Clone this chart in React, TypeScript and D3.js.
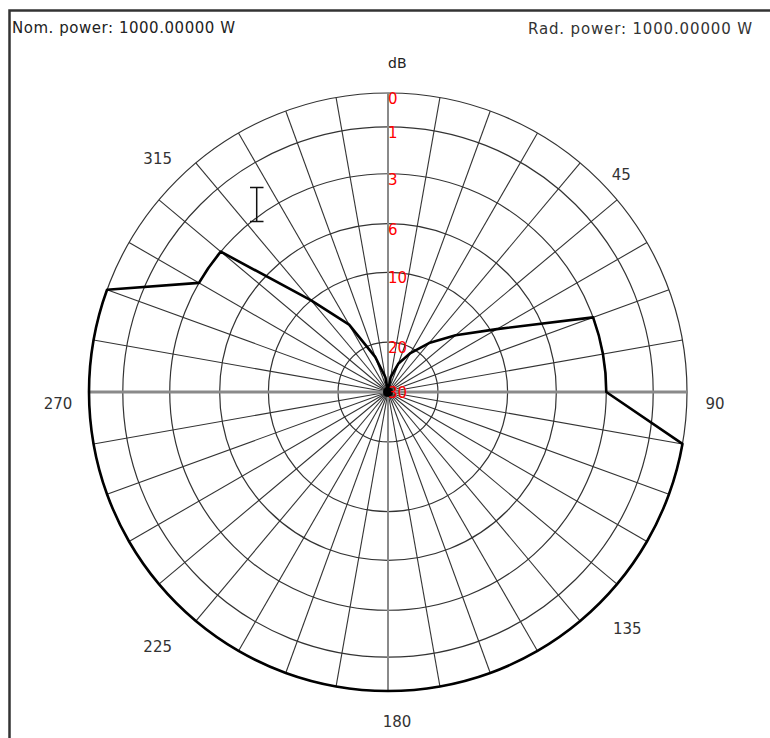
import React from "react";
import * as d3 from "d3";

// Radiation pattern: attenuation in dB (0 = max) at compass angles
const patternAngles = [0, 10, 20, 30, 40, 50, 60, 70, 80, 90, 100, 110, 120, 130, 140, 150, 160, 170,
  180, 190, 200, 210, 220, 230, 240, 250, 260, 270, 280, 290, 300, 310, 320, 330, 340, 350];
const patternDb = [30, 27, 24, 21, 18, 14.5, 9.5, 3, 3, 3, 0, 0, 0, 0, 0, 0, 0, 0,
  0, 0, 0, 0, 0, 0, 0, 0, 0, 0, 0, 0, 3, 3, 10, 16, 22.5, 27];

// dB rings and their labels
const ringLevels = [0, 1, 3, 6, 10, 20, 30];
const angleLabels = [45, 90, 135, 180, 225, 270, 315];

const nomPower = "Nom. power: 1000.00000 W";
const radPower = "Rad. power: 1000.00000 W";

const width = 770, height = 738;
const cx = 388, cy = 392, R = 299;

// non-linear dB scale
const r = d3.scaleLinear()
  .domain(ringLevels)
  .range([1, 0.887, 0.73, 0.563, 0.4, 0.167, 0].map(f => f * R));

const rad = (deg: number) => (deg * Math.PI) / 180;

// straight segments between samples, true arcs where the level stays constant
function patternPath() {
  const p = d3.path();
  const n = patternAngles.length;
  const pt = (a: number, v: number): [number, number] =>
    [r(v) * Math.sin(rad(a)), -r(v) * Math.cos(rad(a))];
  const [x0, y0] = pt(patternAngles[0], patternDb[0]);
  p.moveTo(x0, y0);
  for (let i = 0; i < n; i++) {
    const a0 = patternAngles[i], v0 = patternDb[i];
    const a1 = i + 1 < n ? patternAngles[i + 1] : 360;
    const v1 = patternDb[(i + 1) % n];
    if (v0 === v1 && r(v0) > 0) {
      p.arc(0, 0, r(v0), rad(a0) - Math.PI / 2, rad(a1) - Math.PI / 2);
    } else {
      const [x, y] = pt(a1, v1);
      p.lineTo(x, y);
    }
  }
  return p.toString();
}

// small per-label nudges for the compass labels
const labelNudge: Record<number, [number, number]> = {
  45: [0, 17], 90: [-3, 12], 135: [6, 4], 180: [9, 0], 225: [3, 22], 270: [0, 12], 315: [3, 1],
};

export default function App() {
  const spokes = d3.range(0, 360, 10);
  const font = "'DejaVu Sans', Verdana, sans-serif";

  return (
    <svg width={width} height={height} style={{ position: "absolute", left: 0, top: 0, background: "#fff" }}
      fontFamily={font}>
      {/* frame */}
      <path d={`M9.5,${height} V10.5 H${width}`} fill="none" stroke="#333" strokeWidth={2.5} />

      <text x={12} y={33} fontSize={15} fill="#222" textLength={223} lengthAdjust="spacing">{nomPower}</text>
      <text x={528} y={34} fontSize={15} fill="#333" textLength={224} lengthAdjust="spacing">{radPower}</text>

      <g transform={`translate(${cx},${cy})`}>
        {/* spokes */}
        {spokes.filter(a => a % 90 !== 0).map(a => (
          <line key={a} x1={0} y1={0} x2={R * Math.sin(rad(a))} y2={-R * Math.cos(rad(a))}
            stroke="#333" strokeWidth={1.1} />
        ))}
        {/* rings */}
        {ringLevels.filter(l => r(l) > 0).map(l => (
          <circle key={l} r={r(l)} fill="none" stroke="#333" strokeWidth={1.2} />
        ))}
        {/* main axes */}
        <line x1={-R} y1={0} x2={R} y2={0} stroke="#8a8a8a" strokeWidth={3} />
        <line x1={0} y1={-R} x2={0} y2={R} stroke="#8a8a8a" strokeWidth={2} />

        {/* pattern */}
        <path d={patternPath()} fill="none" stroke="#000" strokeWidth={2.6} strokeLinejoin="round" />
        <circle r={5} fill="#000" />

        {/* dB labels */}
        {ringLevels.map(l => (
          <text key={l} x={0} y={l === 30 ? 6 : -r(l) + 11} fontSize={15} fill="#ff0000">{l}</text>
        ))}
        <text x={0} y={-324} fontSize={14} fill="#222">dB</text>

        {/* compass labels */}
        {angleLabels.map(a => {
          const [dx, dy] = labelNudge[a] || [0, 0];
          return (
            <text key={a} x={330 * Math.sin(rad(a)) + dx} y={-330 * Math.cos(rad(a)) + dy}
              fontSize={15} fill="#333" textAnchor="middle" dominantBaseline="middle">{a}</text>
          );
        })}
      </g>

      {/* text cursor left in the screenshot */}
      <path d="M250,187.5 H263.5 M256.7,187.5 V221.5 M250,221.5 H263.5" fill="none" stroke="#111" strokeWidth={1.5} />
    </svg>
  );
}
